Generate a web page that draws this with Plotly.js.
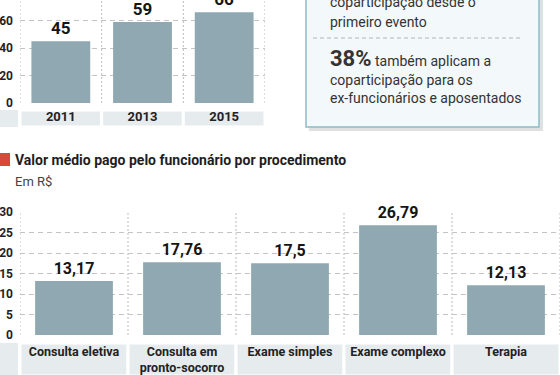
<!DOCTYPE html>
<html>
<head>
<meta charset="utf-8">
<script src="https://cdn.plot.ly/plotly-3.0.1.min.js"></script>
<style>html,body{margin:0;padding:0;background:#fff}#chart{width:560px;height:375px}</style>
</head>
<body>
<div id="chart"></div>
<script>
// ---- data ----
const yearCats = ['2011', '2013', '2015'];
const yearVals = [45, 59, 66];
const yearTicks = [0, 20, 40, 60];

const procCats = ['Consulta eletiva', 'Consulta em<br>pronto-socorro', 'Exame simples', 'Exame complexo', 'Terapia'];
const procVals = [13.17, 17.76, 17.5, 26.79, 12.13];
const procTicks = [0, 5, 10, 15, 20, 25, 30];

const boxLines = [
  'coparticipação desde o',
  'primeiro evento',
  '<span style="font-size:22px"><b>38%</b></span> também aplicam a',
  'coparticipação para os',
  'ex-funcionários e aposentados'
];
const chartTitle = 'Valor médio pago pelo funcionário por procedimento';
const chartSubtitle = 'Em R$';

// ---- helpers ----
const W = 560, H = 375;
const px = x => x / W;
const py = y => 1 - y / H;
const FONT = 'Roboto, "Open Sans", sans-serif';
const barColor = '#8fa8b1';
const bandColor = '#e6ebee';
const gridColor = '#c4c4c4';
const sepColor = '#bdbdbd';
const fmt = v => String(v).replace('.', ',');

const traces = [
  {
    type: 'bar', x: yearCats, y: yearVals, xaxis: 'x', yaxis: 'y',
    marker: {color: barColor}, text: yearVals.map(fmt), textposition: 'outside',
    textfont: {family: FONT, size: 17, color: '#151515', weight: 700},
    cliponaxis: false, hoverinfo: 'skip'
  },
  {
    type: 'bar', x: procCats, y: procVals, xaxis: 'x2', yaxis: 'y2',
    marker: {color: barColor}, text: procVals.map(fmt), textposition: 'outside',
    textfont: {family: FONT, size: 16, color: '#151515', weight: 700},
    cliponaxis: false, hoverinfo: 'skip'
  }
];

const shapes = [];
// category bands and column separators
function bands(n, xref, yref, top, bottom) {
  for (let i = 0; i < n; i++) {
    shapes.push({type: 'rect', layer: 'below', xref: xref, yref: 'paper',
      x0: i - 0.5, x1: i + 0.5, y0: py(bottom), y1: py(top),
      fillcolor: bandColor, line: {color: '#ffffff', width: 3}});
  }
  for (let i = 0; i <= n; i++) {
    shapes.push({type: 'line', layer: 'below', xref: xref, yref: yref + ' domain',
      x0: i - 0.5, x1: i - 0.5, y0: 0, y1: 1,
      line: {color: sepColor, width: 1, dash: '2px,2px'}});
  }
  shapes.push({type: 'rect', layer: 'below', xref: 'paper', yref: 'paper',
    x0: 0, x1: px(18), y0: py(bottom), y1: py(top),
    fillcolor: bandColor, line: {width: 0}});
}
bands(yearCats.length, 'x', 'y', 110, 127);
bands(procCats.length, 'x2', 'y2', 343, 376);

// info box shadow + box
shapes.push({type: 'rect', xref: 'paper', yref: 'paper', x0: px(309), x1: px(543), y0: py(131), y1: py(-5),
  fillcolor: 'rgba(0,0,0,0.12)', line: {width: 0}});
shapes.push({type: 'rect', xref: 'paper', yref: 'paper', x0: px(306), x1: px(539), y0: py(127), y1: py(-5),
  fillcolor: '#f3f8fa', line: {color: '#8cbcc6', width: 1.5}});
shapes.push({type: 'line', xref: 'paper', yref: 'paper', x0: px(313), x1: px(523), y0: py(38), y1: py(38),
  line: {color: '#b5b5b5', width: 1, dash: '4px,3px'}});
// red marker
shapes.push({type: 'rect', xref: 'paper', yref: 'paper', x0: 0, x1: px(10), y0: py(166), y1: py(153),
  fillcolor: '#d6493b', line: {width: 0}});

const lineY = [2, 22, 58, 80, 98];
const annotations = boxLines.map((t, i) => ({
  text: t, xref: 'paper', yref: 'paper', x: px(328), y: py(lineY[i]),
  xanchor: 'left', yanchor: 'middle', showarrow: false,
  font: {family: FONT, size: 14, color: '#333'}
}));
annotations.push({text: '<b>' + chartTitle + '</b>', xref: 'paper', yref: 'paper', x: px(13), y: py(160),
  xanchor: 'left', yanchor: 'middle', showarrow: false, font: {family: FONT, size: 14, color: '#1e1e1e'}});
annotations.push({text: chartSubtitle, xref: 'paper', yref: 'paper', x: px(13), y: py(181),
  xanchor: 'left', yanchor: 'middle', showarrow: false, font: {family: FONT, size: 13, color: '#444'}});

const xCommon = {
  type: 'category', showgrid: false, ticks: '', showline: false, zeroline: false, fixedrange: true,
  tickfont: {family: FONT, size: 13, color: '#222', weight: 700}
};
const yCommon = {
  showgrid: true, gridcolor: gridColor, griddash: '5px,4px', gridwidth: 1, zeroline: false,
  showline: false, ticks: '', tickmode: 'array', fixedrange: true, ticklabelstandoff: 6,
  tickfont: {family: FONT, size: 12, color: '#222', weight: 700}
};

const layout = {
  width: W, height: H, margin: {l: 0, r: 0, t: 0, b: 0},
  paper_bgcolor: '#fff', plot_bgcolor: 'rgba(0,0,0,0)',
  showlegend: false, bargap: 0.28,
  xaxis: Object.assign({}, xCommon, {domain: [px(20), px(265)], range: [-0.5, 2.5], anchor: 'y', ticklabelstandoff: 4}),
  yaxis: Object.assign({}, yCommon, {domain: [py(103), 1], range: [0, 75], tickvals: yearTicks, anchor: 'x'}),
  xaxis2: Object.assign({}, xCommon, {domain: [px(20), 1], range: [-0.5, 4.5], anchor: 'y2', ticklabelstandoff: 7,
    tickfont: {family: FONT, size: 12.5, color: '#222', weight: 700}}),
  yaxis2: Object.assign({}, yCommon, {domain: [py(335), py(212)], range: [0, 30], tickvals: procTicks, anchor: 'x2'}),
  shapes: shapes, annotations: annotations
};

Plotly.newPlot('chart', traces, layout, {displayModeBar: false, staticPlot: true});
</script>
</body>
</html>
